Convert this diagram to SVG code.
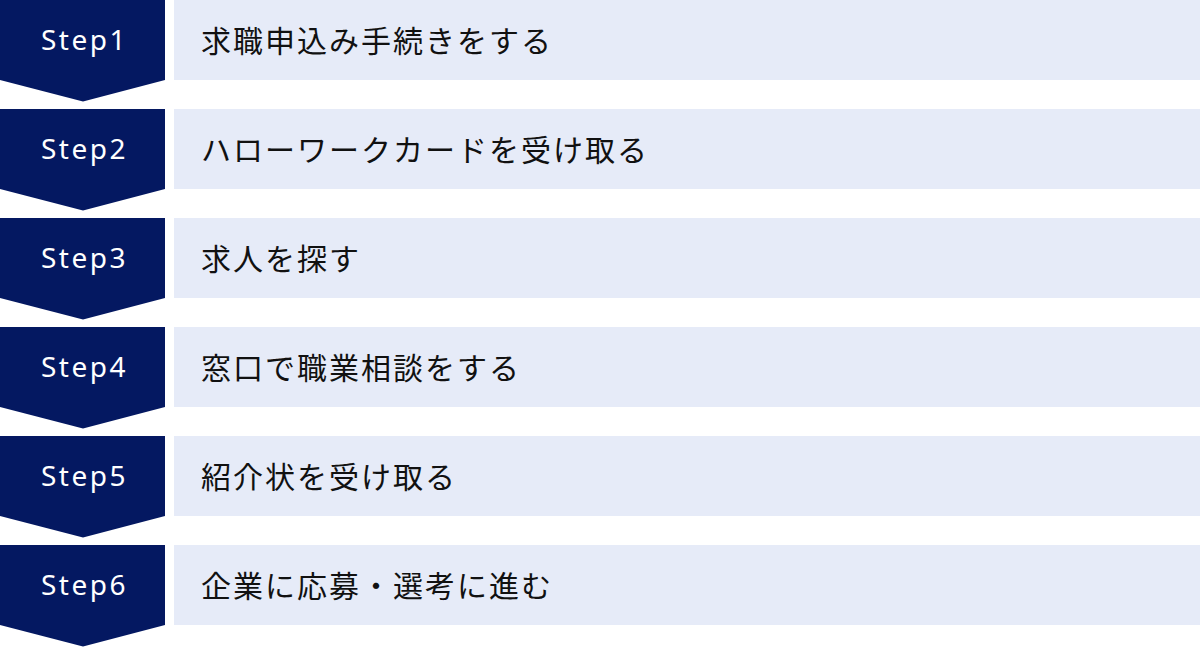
<svg xmlns="http://www.w3.org/2000/svg" width="1200" height="647" viewBox="0 0 1200 647">
<defs>
<style>
.badge{fill:#041861}
.bar{fill:#e6ebf8}
.step{font-family:"Noto Sans","DejaVu Sans",sans-serif;font-size:28px;fill:#ffffff;letter-spacing:2.5px;text-anchor:middle;dominant-baseline:central}
.lbl{font-family:"Noto Sans CJK JP","Noto Sans",sans-serif;font-size:30px;fill:#111111;letter-spacing:2px;dominant-baseline:central}
</style>
<path id="chev" class="badge" d="M0 0H165V80L83 101.5L0 80Z"/>
</defs>
<g id="connectors"></g>
<g id="step1"><use href="#chev" y="0"/><rect class="bar" x="174" y="0" width="1026" height="80"/><text class="step" x="84.5" y="39">Step1</text><text class="lbl" x="201" y="38.5">求職申込み手続きをする</text></g>
<g id="step2"><use href="#chev" y="109"/><rect class="bar" x="174" y="109" width="1026" height="80"/><text class="step" x="84.5" y="148">Step2</text><text class="lbl" x="201" y="147.5">ハローワークカードを受け取る</text></g>
<g id="step3"><use href="#chev" y="218"/><rect class="bar" x="174" y="218" width="1026" height="80"/><text class="step" x="84.5" y="257">Step3</text><text class="lbl" x="201" y="256.5">求人を探す</text></g>
<g id="step4"><use href="#chev" y="327"/><rect class="bar" x="174" y="327" width="1026" height="80"/><text class="step" x="84.5" y="366">Step4</text><text class="lbl" x="201" y="365.5">窓口で職業相談をする</text></g>
<g id="step5"><use href="#chev" y="436"/><rect class="bar" x="174" y="436" width="1026" height="80"/><text class="step" x="84.5" y="475">Step5</text><text class="lbl" x="201" y="474.5">紹介状を受け取る</text></g>
<g id="step6"><use href="#chev" y="545"/><rect class="bar" x="174" y="545" width="1026" height="80"/><text class="step" x="84.5" y="584">Step6</text><text class="lbl" x="201" y="583.5">企業に応募・選考に進む</text></g>
</svg>
